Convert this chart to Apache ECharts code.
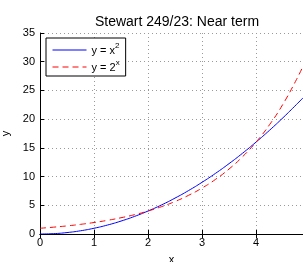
<!DOCTYPE html>
<html>
<head>
<meta charset="utf-8">
<script src="https://cdn.jsdelivr.net/npm/echarts@6/dist/echarts.min.js"></script>
<style>
  html, body { margin: 0; padding: 0; background: #fff; }
  #chart { width: 303px; height: 262px; }
</style>
</head>
<body>
<div id="chart"></div>
<script>
const xs = [0, 0.25, 0.5, 0.75, 1, 1.25, 1.5, 1.75, 2, 2.25, 2.5, 2.75, 3, 3.25, 3.5, 3.75, 4, 4.25, 4.5, 4.75, 4.87];
const squareVals = [0, 0.06, 0.25, 0.56, 1, 1.56, 2.25, 3.06, 4, 5.06, 6.25, 7.56, 9, 10.56, 12.25, 14.06, 16, 18.06, 20.25, 22.56, 23.7];
const expVals = [1, 1.19, 1.41, 1.68, 2, 2.38, 2.83, 3.36, 4, 4.76, 5.66, 6.73, 8, 9.51, 11.31, 13.45, 16, 19.03, 22.63, 26.91, 29.2];
const xTicks = [0, 1, 2, 3, 4];
const yTicks = [0, 5, 10, 15, 20, 25, 30, 35];

const chart = echarts.init(document.getElementById('chart'));
const font = 'Liberation Sans, Arial, sans-serif';
const dotted = { show: true, lineStyle: { color: '#9a9a9a', type: [1, 3], width: 1 } };

chart.setOption({
  animation: false,
  title: {
    text: 'Stewart 249/23: Near term',
    left: 172,
    top: 10,
    textAlign: 'center',
    textStyle: { fontFamily: font, fontSize: 14, fontWeight: 'normal', color: '#000' }
  },
  grid: { left: 40, top: 33, right: 0, bottom: 28, outerBoundsMode: 'none', containLabel: false },
  legend: {
    left: 46,
    top: 38,
    orient: 'vertical',
    padding: [4, 6, 3, 6],
    itemGap: 3,
    itemWidth: 34,
    itemHeight: 14,
    borderColor: '#000',
    borderWidth: 1,
    borderRadius: 0,
    backgroundColor: '#fff',
    itemStyle: { opacity: 0 },
    lineStyle: { width: 1 },
    textStyle: {
      fontFamily: font, fontSize: 11, color: '#000',
      rich: {
        n: { fontFamily: font, fontSize: 11, color: '#000', verticalAlign: 'bottom', lineHeight: 12 },
        sup: { fontFamily: font, fontSize: 8, color: '#000', verticalAlign: 'bottom', lineHeight: 8, padding: [0, 0, 6, 0] }
      }
    },
    formatter: (name) => name === 'sq' ? '{n|y = x}{sup|2}' : '{n|y = 2}{sup|x}',
    data: ['sq', 'ex']
  },
  xAxis: [
    {
      type: 'value', min: 0, max: 4.87, interval: 1,
      name: 'x', nameLocation: 'middle', nameGap: 20,
      nameTextStyle: { fontFamily: font, fontSize: 11, color: '#000' },
      axisLine: { show: true, onZero: false, lineStyle: { color: '#000', width: 1 } },
      axisTick: { show: true, inside: true, length: 4, lineStyle: { color: '#000' } },
      axisLabel: {
        fontFamily: font, fontSize: 11, color: '#000', margin: 3, showMaxLabel: false,
        formatter: (v) => xTicks.includes(v) ? String(v) : ''
      },
      splitLine: dotted
    },
    {
      type: 'value', position: 'top', min: 0, max: 4.87, interval: 1,
      axisLine: { show: true, lineStyle: { color: '#000', width: 1 } },
      axisTick: { show: true, inside: true, length: 4, lineStyle: { color: '#000' } },
      axisLabel: { show: false },
      splitLine: { show: false }
    }
  ],
  yAxis: {
    type: 'value', min: 0, max: 35, interval: 5,
    name: 'y', nameLocation: 'middle', nameGap: 24,
    nameTextStyle: { fontFamily: font, fontSize: 11, color: '#000' },
    axisLine: { show: true, lineStyle: { color: '#000', width: 1 } },
    axisTick: { show: true, inside: true, length: 4, lineStyle: { color: '#000' } },
    axisLabel: {
      fontFamily: font, fontSize: 11, color: '#000', margin: 5,
      formatter: (v) => yTicks.includes(v) ? String(v) : ''
    },
    splitLine: dotted
  },
  series: [
    {
      name: 'sq', type: 'line', smooth: true, symbol: 'none',
      data: xs.map((x, i) => [x, squareVals[i]]),
      lineStyle: { color: '#0000ff', width: 1 },
      itemStyle: { color: '#0000ff' }
    },
    {
      name: 'ex', type: 'line', smooth: true, symbol: 'none',
      data: xs.map((x, i) => [x, expVals[i]]),
      lineStyle: { color: '#ff0000', width: 1, type: [6, 4] },
      itemStyle: { color: '#ff0000' }
    }
  ]
});
</script>
</body>
</html>
